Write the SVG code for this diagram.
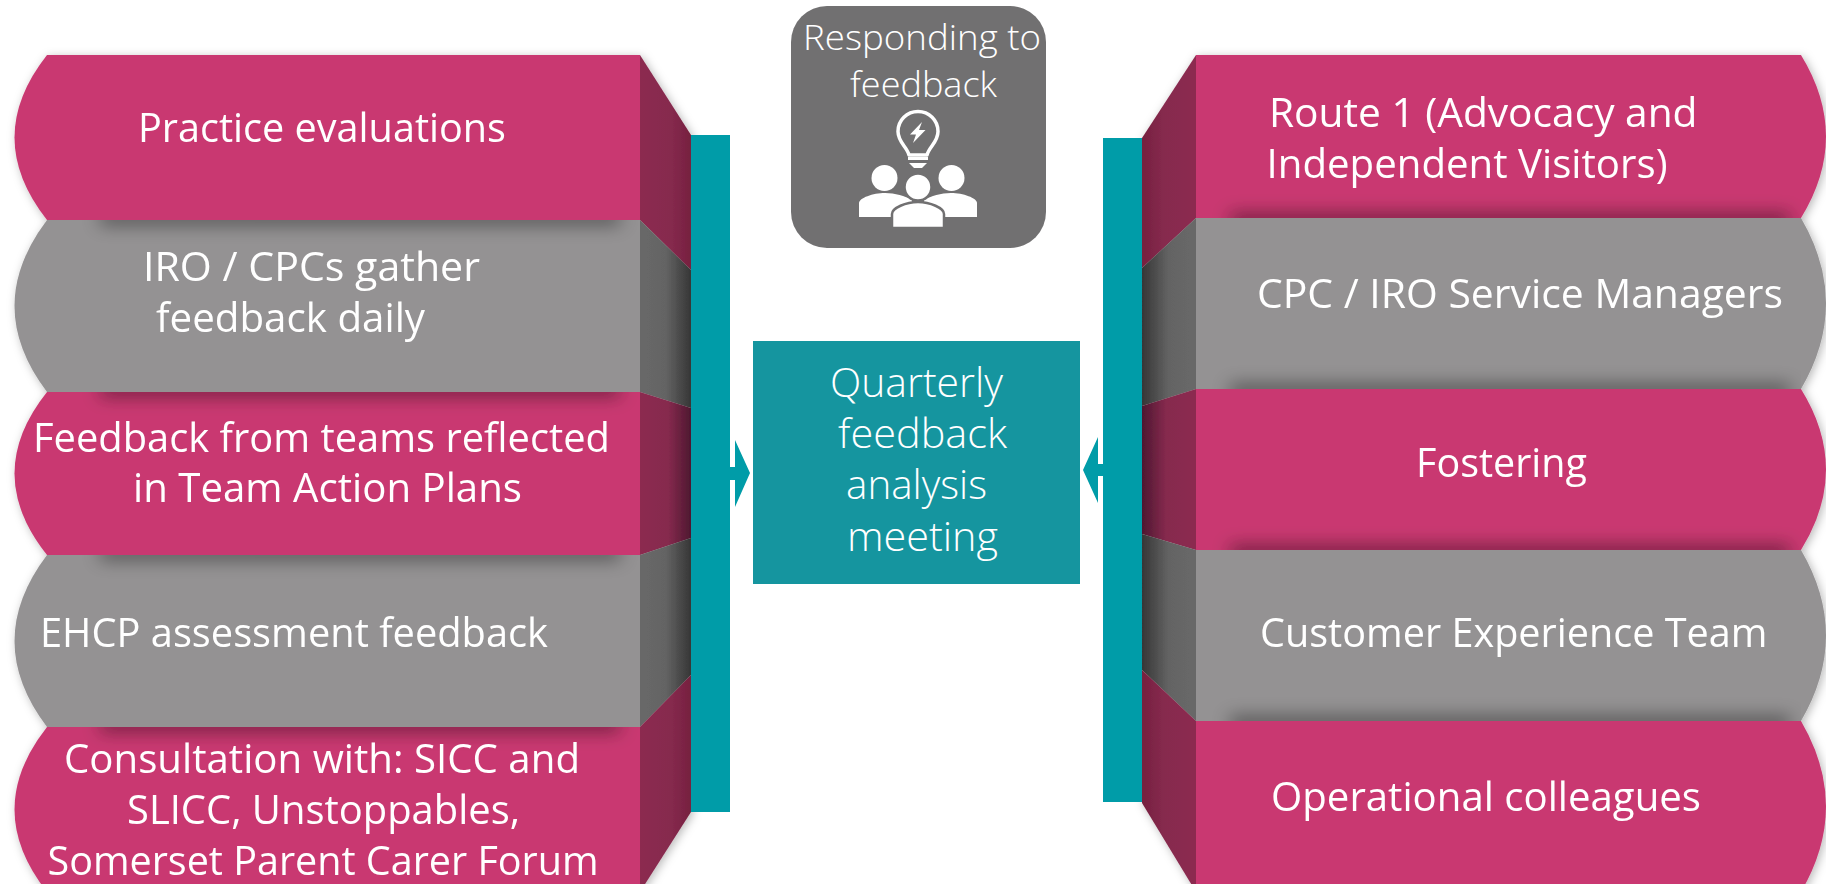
<svg xmlns="http://www.w3.org/2000/svg" width="1826" height="884" viewBox="0 0 1826 884">
<style>
text{font-family:"Open Sans","Noto Sans","Liberation Sans",sans-serif;font-weight:400;fill:#fff;font-size:41px}
.sm{font-size:35px;font-weight:300}
.pink{fill:#c93971}
.gray{fill:#949293}
.sp1{fill:url(#lp1)}
.sp3{fill:url(#lp3)}
.sg{fill:url(#lg)}
.rp1{fill:url(#rp1)}
.rp3{fill:url(#rp3)}
.rg{fill:url(#rg)}
.bar{fill:#009ca8}
.sh{fill:#000;opacity:.5;filter:url(#b)}
.ico{fill:#fff}
</style>
<defs>
<filter id="b" x="-20%" y="-300%" width="140%" height="700%"><feGaussianBlur stdDeviation="9"/></filter>
<filter id="ds" x="-5%" y="-5%" width="110%" height="110%"><feDropShadow dx="2" dy="2" stdDeviation="5" flood-color="#000" flood-opacity=".28"/></filter>
<linearGradient id="lp1"><stop offset="0" stop-color="#8c2b50"/><stop offset=".6" stop-color="#862a4e"/><stop offset="1" stop-color="#76203f"/></linearGradient>
<linearGradient id="lp3"><stop offset="0" stop-color="#8c2b50"/><stop offset=".55" stop-color="#862a4e"/><stop offset="1" stop-color="#4e1830"/></linearGradient>
<linearGradient id="lg"><stop offset="0" stop-color="#686868"/><stop offset=".5" stop-color="#646464"/><stop offset="1" stop-color="#363636"/></linearGradient>
<linearGradient id="rp1" x1="1" x2="0"><stop offset="0" stop-color="#8c2b50"/><stop offset=".6" stop-color="#862a4e"/><stop offset="1" stop-color="#76203f"/></linearGradient>
<linearGradient id="rp3" x1="1" x2="0"><stop offset="0" stop-color="#8c2b50"/><stop offset=".55" stop-color="#862a4e"/><stop offset="1" stop-color="#4e1830"/></linearGradient>
<linearGradient id="rg" x1="1" x2="0"><stop offset="0" stop-color="#686868"/><stop offset=".5" stop-color="#646464"/><stop offset="1" stop-color="#363636"/></linearGradient>
<clipPath id="cl2"><path d="M47,220H640V392H47Q-18,306 47,220Z"/></clipPath>
<clipPath id="cl3"><path d="M47,392H640V555H47Q-18,473.500 47,392Z"/></clipPath>
<clipPath id="cl4"><path d="M47,555H640V727H47Q-18,641 47,555Z"/></clipPath>
<clipPath id="cl5"><path d="M47,727H640V892H47Q-18,809.500 47,727Z"/></clipPath>
<clipPath id="cr1"><rect x="1196" y="55" width="605" height="163"/></clipPath>
<clipPath id="cr2"><rect x="1196" y="218" width="605" height="171"/></clipPath>
<clipPath id="cr3"><rect x="1196" y="389" width="605" height="161"/></clipPath>
<clipPath id="cr4"><rect x="1196" y="550" width="605" height="171"/></clipPath>
</defs>

<g id="left-stack" filter="url(#ds)">
<g id="left-1">
<path class="sp1" d="M640,55L691,135V270L640,220Z"/>
<path class="pink" d="M47,55H640V220H47Q-18,137.500 47,55Z"/>
<text x="138" y="142" textLength="368" lengthAdjust="spacingAndGlyphs">Practice evaluations</text>
</g>
<g id="left-2">
<path class="sg" d="M640,220L691,270V408L640,392Z"/>
<path class="gray" d="M47,220H640V392H47Q-18,306 47,220Z"/>
<g clip-path="url(#cl2)"><rect class="sh" x="100" y="212" width="520" height="12"/></g>
<text x="143" y="281" textLength="337" lengthAdjust="spacingAndGlyphs">IRO / CPCs gather</text>
<text x="156" y="332" textLength="269" lengthAdjust="spacingAndGlyphs">feedback daily</text>
</g>
<g id="left-3">
<path class="sp3" d="M640,392L691,408V538L640,555Z"/>
<path class="pink" d="M47,392H640V555H47Q-18,473.500 47,392Z"/>
<g clip-path="url(#cl3)"><rect class="sh" x="100" y="384" width="520" height="12"/></g>
<text x="33" y="452" textLength="577" lengthAdjust="spacingAndGlyphs">Feedback from teams reflected</text>
<text x="133" y="502" textLength="389" lengthAdjust="spacingAndGlyphs">in Team Action Plans</text>
</g>
<g id="left-4">
<path class="sg" d="M640,555L691,538V675L640,727Z"/>
<path class="gray" d="M47,555H640V727H47Q-18,641 47,555Z"/>
<g clip-path="url(#cl4)"><rect class="sh" x="100" y="547" width="520" height="12"/></g>
<text x="40" y="647" textLength="508" lengthAdjust="spacingAndGlyphs">EHCP assessment feedback</text>
</g>
<g id="left-5">
<path class="sp1" d="M640,727L691,675V812L640,892Z"/>
<path class="pink" d="M47,727H640V892H47Q-18,809.500 47,727Z"/>
<g clip-path="url(#cl5)"><rect class="sh" x="100" y="719" width="520" height="12"/></g>
<text x="64" y="773" textLength="516" lengthAdjust="spacingAndGlyphs">Consultation with: SICC and</text>
<text x="127" y="824" textLength="393" lengthAdjust="spacingAndGlyphs">SLICC, Unstoppables,</text>
<text x="47.500" y="875" textLength="551" lengthAdjust="spacingAndGlyphs">Somerset Parent Carer Forum</text>
</g>
</g>
<rect id="left-bar" class="bar" x="691" y="135" width="39" height="677"/>

<g id="right-stack" filter="url(#ds)">
<g id="right-1">
<path class="rp1" d="M1196,55L1142,138V268L1196,218Z"/>
<path class="pink" d="M1196,55H1801Q1851,136.500 1801,218H1196Z"/>
<g clip-path="url(#cr1)"><rect class="sh" x="1230" y="214" width="560" height="12"/></g>
<text x="1269" y="127" textLength="428.500" lengthAdjust="spacingAndGlyphs">Route 1 (Advocacy and</text>
<text x="1266.500" y="178" textLength="401" lengthAdjust="spacingAndGlyphs">Independent Visitors)</text>
</g>
<g id="right-2">
<path class="rg" d="M1196,218L1142,268V406L1196,389Z"/>
<path class="gray" d="M1196,218H1801Q1851,303.500 1801,389H1196Z"/>
<g clip-path="url(#cr2)"><rect class="sh" x="1230" y="385" width="560" height="12"/></g>
<text x="1257" y="308" textLength="526" lengthAdjust="spacingAndGlyphs">CPC / IRO Service Managers</text>
</g>
<g id="right-3">
<path class="rp3" d="M1196,389L1142,406V534L1196,550Z"/>
<path class="pink" d="M1196,389H1801Q1851,469.500 1801,550H1196Z"/>
<g clip-path="url(#cr3)"><rect class="sh" x="1230" y="546" width="560" height="12"/></g>
<text x="1416" y="477" textLength="171" lengthAdjust="spacingAndGlyphs">Fostering</text>
</g>
<g id="right-4">
<path class="rg" d="M1196,550L1142,534V670L1196,721Z"/>
<path class="gray" d="M1196,550H1801Q1851,635.500 1801,721H1196Z"/>
<g clip-path="url(#cr4)"><rect class="sh" x="1230" y="717" width="560" height="12"/></g>
<text x="1260" y="647" textLength="507.500" lengthAdjust="spacingAndGlyphs">Customer Experience Team</text>
</g>
<g id="right-5">
<path class="rp1" d="M1196,721L1142,670V803L1196,892Z"/>
<path class="pink" d="M1196,721H1801Q1851,806.500 1801,892H1196Z"/>
<text x="1271" y="811" textLength="430" lengthAdjust="spacingAndGlyphs">Operational colleagues</text>
</g>
</g>
<rect id="right-bar" class="bar" x="1103" y="138" width="39" height="664"/>

<g id="connectors">
<path class="bar" d="M730,467H735V440L750,473L735,507V480H730Z"/>
<path class="bar" d="M1103,464H1098V437L1083,470L1098,503V476H1103Z"/>
</g>

<g id="quarterly-meeting">
<rect x="753" y="341" width="327" height="243" fill="#15959f"/>
<text x="830" y="397" textLength="173" lengthAdjust="spacingAndGlyphs" style="font-weight:300">Quarterly</text>
<text x="838" y="448" textLength="169" lengthAdjust="spacingAndGlyphs" style="font-weight:300">feedback</text>
<text x="846" y="499" textLength="141" lengthAdjust="spacingAndGlyphs" style="font-weight:300">analysis</text>
<text x="847" y="551" textLength="151" lengthAdjust="spacingAndGlyphs" style="font-weight:300">meeting</text>
</g>

<g id="responding-to-feedback">
<rect x="791" y="6" width="255" height="242" rx="36" fill="#717071"/>
<text class="sm" x="803" y="50" textLength="238" lengthAdjust="spacingAndGlyphs">Responding to</text>
<text class="sm" x="850" y="97" textLength="147" lengthAdjust="spacingAndGlyphs">feedback</text>
<g id="icon">
<path d="M909,155C907,147 898,142 898,131.500A20,20 0 0 1 938,131.500C938,142 929,147 927,155Z" fill="none" stroke="#fff" stroke-width="3.500" stroke-linejoin="round"/>
<path class="ico" d="M922,122L910,134.500H916L913,143L925.500,130H919Z"/>
<rect class="ico" x="908" y="157" width="20" height="3"/>
<path class="ico" d="M909,163H927L922,168H914Z"/>
<circle class="ico" cx="884.500" cy="178" r="13"/>
<circle class="ico" cx="951.500" cy="178" r="13"/>
<path class="ico" d="M859,217V203C859,198 873,193 885,193C895,193 905,196 912,200V217Z"/>
<path class="ico" d="M977,217V203C977,198 963,193 951,193C941,193 931,196 924,200V217Z"/>
<circle cx="918" cy="187" r="13.500" class="ico" stroke="#717071" stroke-width="2.500"/>
<path class="ico" stroke="#717071" stroke-width="2.500" d="M892,228V214C892,208 906,202 918,202C930,202 944,208 944,214V228Z"/>
</g>
</g>
</svg>
